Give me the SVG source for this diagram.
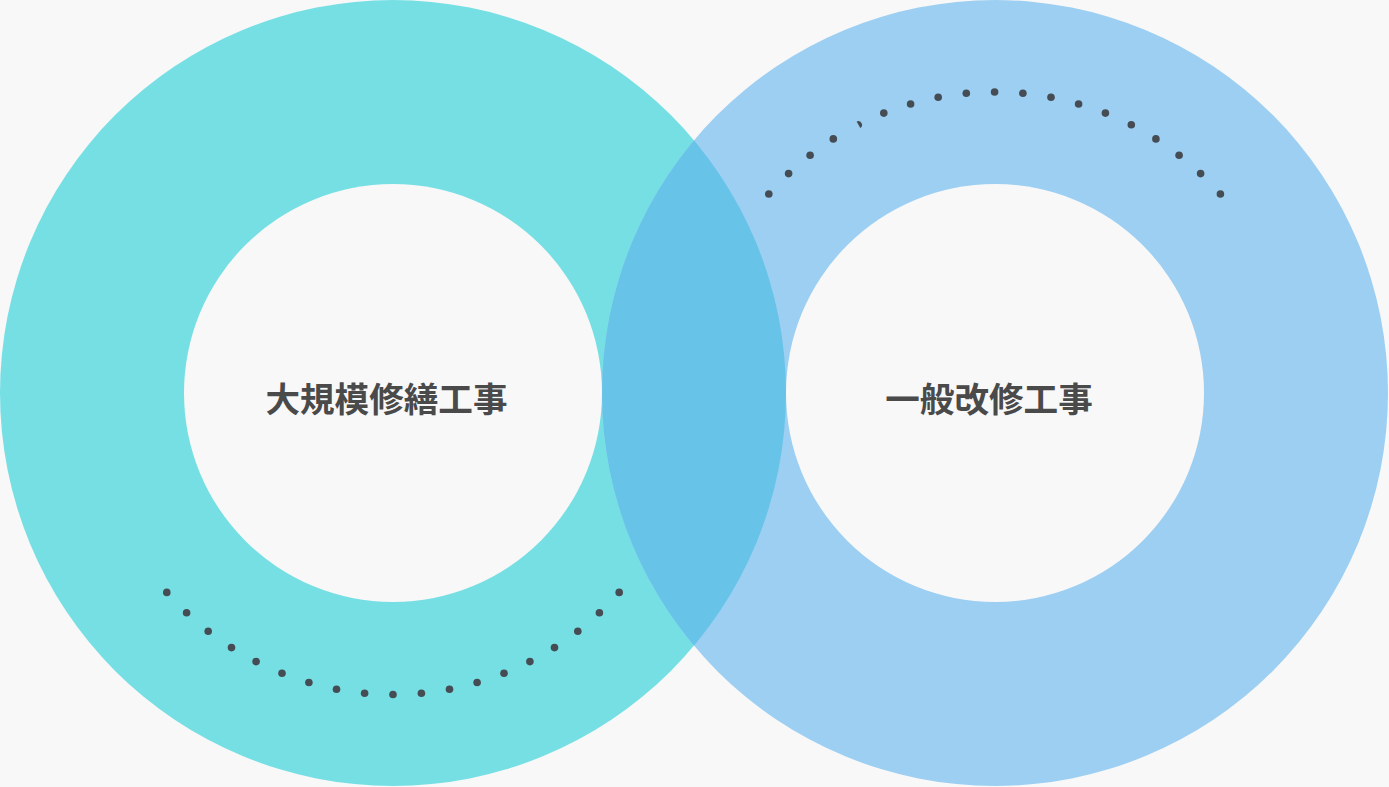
<svg xmlns="http://www.w3.org/2000/svg" width="1389" height="787" viewBox="0 0 1389 787">
<style>
.dot{fill:#464c53}
.lbl{font-family:"Noto Sans CJK JP","Noto Sans CJK SC",sans-serif;font-weight:700;font-size:34.6px;fill:#4a4a4a;text-anchor:middle}
.hole{fill:#f8f8f8}
</style>
<defs>
<clipPath id="leftClip"><circle cx="393" cy="393" r="393"/></clipPath>
</defs>
<rect width="1389" height="787" fill="#f8f8f8"/>
<g id="ring-left">
<circle cx="393" cy="393" r="393" fill="#76dfe4"/>
</g>
<g id="ring-right">
<circle cx="995" cy="393" r="393" fill="#9dcff2"/>
</g>
<g id="overlap">
<circle cx="995" cy="393" r="393" fill="#68c3e8" clip-path="url(#leftClip)"/>
</g>
<g id="node-left">
<circle class="hole" cx="393" cy="393" r="209"/>
<text class="lbl" x="386.5" y="411.5">大規模修繕工事</text>
</g>
<g id="node-right">
<circle class="hole" cx="995" cy="393" r="209"/>
<text class="lbl" x="989" y="411.5">一般改修工事</text>
</g>
<g id="dots-left">
<circle class="dot" cx="166.8" cy="592.4" r="3.8"/>
<circle class="dot" cx="186.6" cy="612.8" r="3.8"/>
<circle class="dot" cx="208.2" cy="631.2" r="3.8"/>
<circle class="dot" cx="231.5" cy="647.6" r="3.8"/>
<circle class="dot" cx="256.1" cy="661.6" r="3.8"/>
<circle class="dot" cx="282.0" cy="673.3" r="3.8"/>
<circle class="dot" cx="308.9" cy="682.5" r="3.8"/>
<circle class="dot" cx="336.5" cy="689.2" r="3.8"/>
<circle class="dot" cx="364.6" cy="693.2" r="3.8"/>
<circle class="dot" cx="393" cy="694.5" r="3.8"/>
<circle class="dot" cx="421.4" cy="693.2" r="3.8"/>
<circle class="dot" cx="449.5" cy="689.2" r="3.8"/>
<circle class="dot" cx="477.1" cy="682.5" r="3.8"/>
<circle class="dot" cx="504.0" cy="673.3" r="3.8"/>
<circle class="dot" cx="529.9" cy="661.6" r="3.8"/>
<circle class="dot" cx="554.5" cy="647.6" r="3.8"/>
<circle class="dot" cx="577.8" cy="631.2" r="3.8"/>
<circle class="dot" cx="599.4" cy="612.8" r="3.8"/>
<circle class="dot" cx="619.2" cy="592.4" r="3.8"/>
</g>
<g id="dots-right">
<circle class="dot" cx="768.8" cy="194.0" r="3.8"/>
<circle class="dot" cx="788.6" cy="173.6" r="3.8"/>
<circle class="dot" cx="810.1" cy="155.2" r="3.8"/>
<circle class="dot" cx="833.3" cy="138.9" r="3.8"/>
<path class="dot" d="M856.6 121.6 A3.7 3.7 0 0 1 860.3 128 Z"/>
<circle class="dot" cx="883.8" cy="113.1" r="3.8"/>
<circle class="dot" cx="910.6" cy="104.0" r="3.8"/>
<circle class="dot" cx="938.2" cy="97.3" r="3.8"/>
<circle class="dot" cx="966.3" cy="93.3" r="3.8"/>
<circle class="dot" cx="994.6" cy="92.0" r="3.8"/>
<circle class="dot" cx="1022.9" cy="93.3" r="3.8"/>
<circle class="dot" cx="1051.0" cy="97.3" r="3.8"/>
<circle class="dot" cx="1078.6" cy="104.0" r="3.8"/>
<circle class="dot" cx="1105.4" cy="113.1" r="3.8"/>
<circle class="dot" cx="1131.3" cy="124.8" r="3.8"/>
<circle class="dot" cx="1155.9" cy="138.9" r="3.8"/>
<circle class="dot" cx="1179.1" cy="155.2" r="3.8"/>
<circle class="dot" cx="1200.6" cy="173.6" r="3.8"/>
<circle class="dot" cx="1220.4" cy="194.0" r="3.8"/>
</g>
</svg>
